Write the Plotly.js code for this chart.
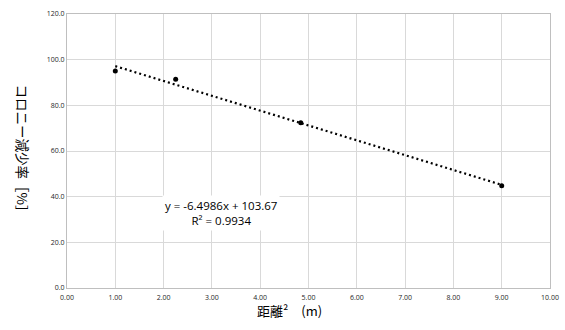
<!DOCTYPE html>
<html>
<head>
<meta charset="utf-8">
<script src="https://cdn.plot.ly/plotly-3.0.1.min.js"></script>
<style>html,body{margin:0;padding:0;background:#fff;}#chart{width:565px;height:330px;}</style>
</head>
<body>
<div id="chart"></div>
<script>
// Data (distance squared [m²] vs. colony reduction rate [%])
const distanceSq = [1.00, 2.25, 4.84, 9.00];
const reductionRate = [95.0, 91.4, 72.4, 44.8];

// Trendline coefficients as printed on the chart
const slope = -6.4986;
const intercept = 103.67;
const rSquared = 0.9934;

const xTitle = '距離²　(m)';
const yTitle = 'コロニー減少率［%］';
const eqLine = 'y = ' + slope + 'x + ' + intercept;
const r2Line = 'R² = ' + rSquared;

const xMin = Math.min(...distanceSq), xMax = Math.max(...distanceSq);
const trendX = [xMin, xMax];
const trendY = trendX.map(v => slope * v + intercept);

const tickFont = {family: 'Open Sans, Liberation Sans, sans-serif', size: 7, color: '#262626'};

const traces = [
  {
    x: trendX, y: trendY, type: 'scatter', mode: 'lines',
    line: {color: '#000000', width: 2.2, dash: '2px,3px'},
    hoverinfo: 'skip', showlegend: false
  },
  {
    x: distanceSq, y: reductionRate, type: 'scatter', mode: 'markers',
    marker: {color: '#000000', size: 5},
    showlegend: false
  }
];

const layout = {
  width: 565, height: 330,
  margin: {l: 67, r: 15, t: 13.5, b: 41.5},
  paper_bgcolor: '#ffffff', plot_bgcolor: '#ffffff',
  showlegend: false,
  xaxis: {
    range: [0, 10], dtick: 1, tick0: 0, tickformat: '.2f',
    showgrid: true, gridcolor: '#d9d9d9', gridwidth: 1,
    zeroline: false, showline: true, linecolor: '#bfbfbf', linewidth: 1, mirror: true,
    ticks: '', tickfont: tickFont, ticklabelstandoff: 3, fixedrange: true
  },
  yaxis: {
    range: [0, 120], dtick: 20, tick0: 0, tickformat: '.1f',
    showgrid: true, gridcolor: '#d9d9d9', gridwidth: 1,
    zeroline: false, showline: true, linecolor: '#bfbfbf', linewidth: 1, mirror: true,
    ticks: '', ticklen: 0, tickfont: tickFont, fixedrange: true
  },
  annotations: [
    {
      text: xTitle, xref: 'paper', yref: 'paper',
      x: (289 - 67) / 483, y: -(311 - 288.5) / 275,
      xanchor: 'center', yanchor: 'middle', showarrow: false,
      font: {family: 'Noto Sans CJK JP, sans-serif', size: 13, color: '#000000'}
    },
    {
      text: yTitle, xref: 'paper', yref: 'paper',
      x: -(67 - 22.5) / 483, y: 0.5, textangle: 90,
      xanchor: 'center', yanchor: 'middle', showarrow: false,
      font: {family: 'Noto Sans CJK JP, sans-serif', size: 13.5, color: '#000000'}
    },
    {
      text: eqLine + '<br>' + r2Line, xref: 'paper', yref: 'paper',
      x: (221 - 67) / 483, y: (288.5 - 213.5) / 275,
      xanchor: 'center', yanchor: 'middle', showarrow: false, align: 'center',
      bgcolor: '#ffffff', borderpad: 2,
      font: {family: 'Open Sans, Liberation Sans, sans-serif', size: 11.5, color: '#000000'}
    }
  ]
};

Plotly.newPlot('chart', traces, layout, {displayModeBar: false, staticPlot: true});
</script>
</body>
</html>
